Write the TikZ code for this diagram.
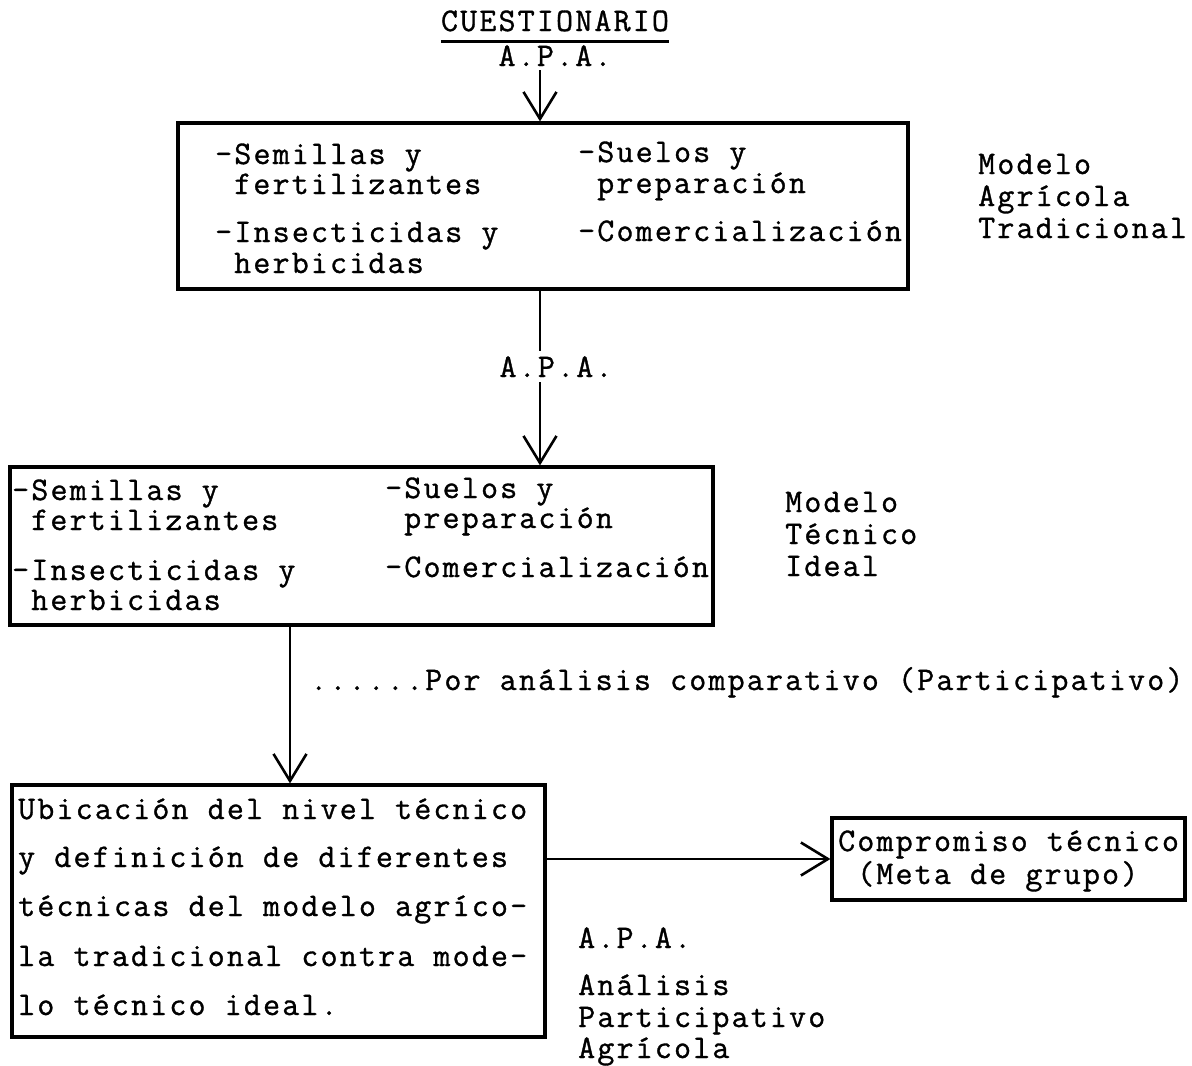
\documentclass[tikz,border=0pt]{standalone}
\usepackage{fontspec}
\setmonofont{Latin Modern Mono}[LetterSpace=6.6, FakeBold=1]
\usetikzlibrary{arrows.meta}
\begin{document}
\begin{tikzpicture}[x=1pt,y=-1pt,
  txt/.style={anchor=base west, inner sep=0pt, font=\fontsize{33}{38}\selectfont\ttfamily},
  ctxt/.style={anchor=base, inner sep=0pt, font=\fontsize{33}{38}\selectfont\ttfamily},
  box/.style={draw, line width=3.2pt, inner sep=0pt},
  conn/.style={line width=2.6pt},
  arr/.style={conn, -{Straight Barb[length=27pt, width=33pt, line width=2.6pt]}}]
\useasboundingbox (0,0) rectangle (1192,1066);
\fill[white] (0,0) rectangle (1192,1066);

% header
\node[ctxt] (cuest) at (555,31) {CUESTIONARIO};
\draw[line width=3pt] ([yshift=-10pt]cuest.base west) -- ([yshift=-10pt]cuest.base east);
\node[ctxt] (apa1) at (555,66) {A.P.A.};
\coordinate (ax) at (540,0);

% box 1
\node[box, minimum width=730pt, minimum height=166pt] (b1) at (543,206) {};
\node[txt] (b1a) at (215,164) {-Semillas y};
\node[txt] (b1b) at (234,194) {fertilizantes};
\node[txt] (b1c) at (215,242) {-Insecticidas y};
\node[txt] (b1d) at (234,273) {herbicidas};
\node[txt] (b1e) at (578,162) {-Suelos y};
\node[txt] (b1f) at (597,193) {preparación};
\node[txt] (b1g) at (578,241) {-Comercialización};
\node[txt] (m1a) at (978,174) {Modelo};
\node[txt] (m1b) at (978,206) {Agrícola};
\node[txt] (m1c) at (978,238) {Tradicional};

% A.P.A. between box1 and box2
\node[ctxt, fill=white, inner sep=5pt] (apa2) at (556,377) {A.P.A.};

% box 2
\node[box, minimum width=703pt, minimum height=158pt] (b2) at (361.5,546) {};
\node[txt] (b2a) at (12,500) {-Semillas y};
\node[txt] (b2b) at (31,530) {fertilizantes};
\node[txt] (b2c) at (12,580) {-Insecticidas y};
\node[txt] (b2d) at (31,610) {herbicidas};
\node[txt] (b2e) at (385,498) {-Suelos y};
\node[txt] (b2f) at (404,528) {preparación};
\node[txt] (b2g) at (385,577) {-Comercialización};
\node[txt] (m2a) at (785,512) {Modelo};
\node[txt] (m2b) at (785,544) {Técnico};
\node[txt] (m2c) at (785,576) {Ideal};

% comparative label
\node[txt] (comp) at (310,690) {......Por análisis comparativo (Participativo)};
\coordinate (ax2) at (290,0);

% box 3
\node[box, minimum width=533pt, minimum height=252pt] (b3) at (278.5,911) {};
\node[txt] (b3a) at (18,819) {Ubicación del nivel técnico};
\node[txt] (b3b) at (18,867) {y definición de diferentes};
\node[txt] (b3c) at (18,916) {técnicas del modelo agríco-};
\node[txt] (b3d) at (18,966) {la tradicional contra mode-};
\node[txt] (b3e) at (18,1015) {lo técnico ideal.};

% box 4
\node[box, minimum width=353pt, minimum height=82pt] (b4) at (1008.5,859) {};
\node[txt] (b4a) at (838,851) {Compromiso técnico};
\node[txt] (b4b) at (857,884) {(Meta de grupo)};

% bottom legend
\node[txt] (apa3) at (578,948) {A.P.A.};
\node[txt] (l1) at (578,995) {Análisis};
\node[txt] (l2) at (578,1027) {Participativo};
\node[txt] (l3) at (578,1058) {Agrícola};

% connectors
\draw[arr] (ax |- apa1.south) ++(0,4) -- (ax |- b1.north);
\draw[conn] (ax |- b1.south) -- (ax |- apa2.north);
\draw[arr] (ax |- apa2.south) -- (ax |- b2.north);
\draw[arr] (ax2 |- b2.south) -- (ax2 |- b3.north);
\draw[arr] (b3.east |- b4.west) -- (b4.west);
\end{tikzpicture}
\end{document}
